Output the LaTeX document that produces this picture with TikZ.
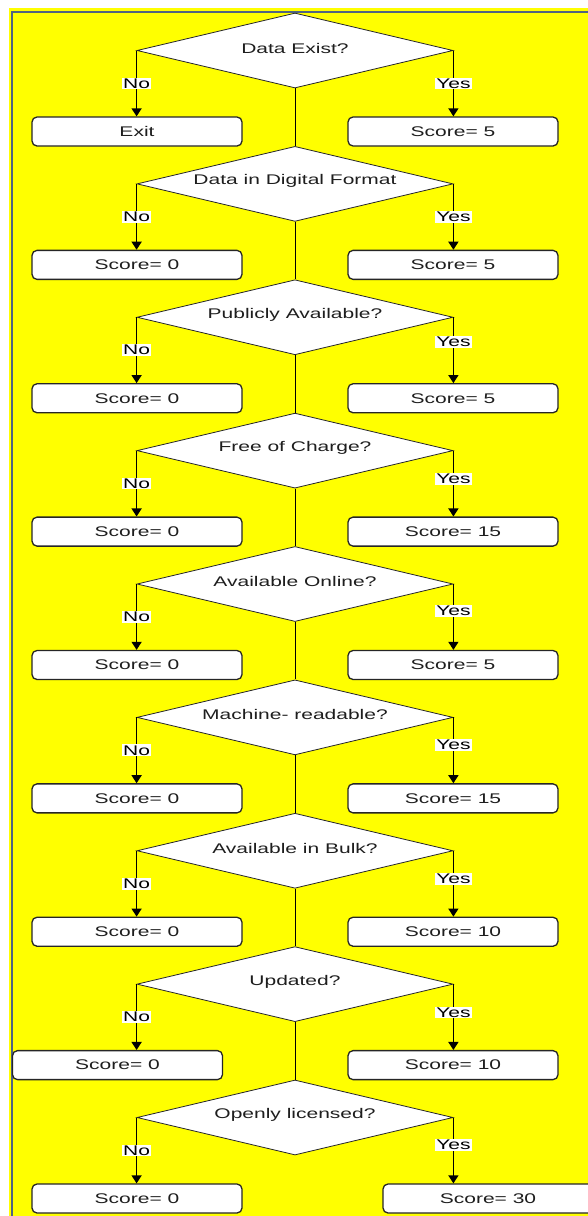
\documentclass[tikz,border=0pt]{standalone}
\usepackage{fontspec}
\setmainfont{Liberation Sans}[FakeStretch=1.5]
\usetikzlibrary{shapes.geometric,arrows.meta}
\definecolor{bgyellow}{RGB}{255,255,0}
\definecolor{framecol}{RGB}{80,100,130}
\definecolor{txtcol}{RGB}{30,30,30}
\tikzset{
  every node/.style={font=\fontsize{14pt}{16pt}\selectfont, text=txtcol},
  decision/.style={diamond, draw=black!85, line width=0.8pt, fill=white,
    minimum width=316pt, minimum height=75pt, inner sep=0pt},
  scorebox/.style={rectangle, rounded corners=5pt, draw=black!85, line width=1.3pt,
    fill=white, minimum width=210pt, minimum height=29pt, inner sep=0pt},
  qtext/.style={inner sep=0pt},
  lbl/.style={fill=white, inner sep=1pt, text=black},
  arr/.style={line width=1.3pt, black, -{Triangle[width=10pt,length=8pt]}},
  trunk/.style={line width=0.9pt, black}
}
\begin{document}
\begin{tikzpicture}[x=1pt,y=-1pt]
\useasboundingbox (0,0) rectangle (588,1216);
\fill[white] (0,0) rectangle (588,1216);
\fill[bgyellow] (9,8) rectangle (588,1216);
\draw[framecol, line width=1.2pt] (12,1216) -- (12,12) -- (588,12);
\foreach \i/\q/\lt/\rt/\lx/\rx/\yp in {
  1/Data Exist?/Exit/Score= 5/137/453/0.5,
  2/Data in Digital Format/Score= 0/Score= 5/137/453/0.5,
  3/Publicly Available?/Score= 0/Score= 5/137/453/0.37,
  4/Free of Charge?/Score= 0/Score= 15/137/453/0.43,
  5/Available Online?/Score= 0/Score= 5/137/453/0.41,
  6/Machine- readable?/Score= 0/Score= 15/137/453/0.42,
  7/Available in Bulk?/Score= 0/Score= 10/137/453/0.43,
  8/Updated?/Score= 0/Score= 10/117.5/453/0.43,
  9/Openly licensed?/Score= 0/Score= 30/137/488/0.42} {
  \pgfmathsetmacro\cy{13+133.375*(\i-1)+37.5}
  \pgfmathsetmacro\by{13+133.375*(\i-1)+118.5}
  \node[decision] (d\i) at (295,\cy) {};
  \node[qtext] (q\i) at (295,\cy-2.5) {\q};
  \node[scorebox] (l\i) at (\lx,\by) {\lt};
  \node[scorebox] (r\i) at (\rx,\by) {\rt};
  \draw[arr] (d\i.west) -- node[lbl, pos=0.5] {No} (d\i.west |- l\i.north);
  \draw[arr] (d\i.east) -- node[lbl, pos=\yp] {Yes} (d\i.east |- r\i.north);
}
\foreach \i in {1,...,8} {
  \pgfmathtruncatemacro\j{\i+1}
  \draw[trunk] (d\i.south) -- (d\j.north);
}
\end{tikzpicture}
\end{document}
